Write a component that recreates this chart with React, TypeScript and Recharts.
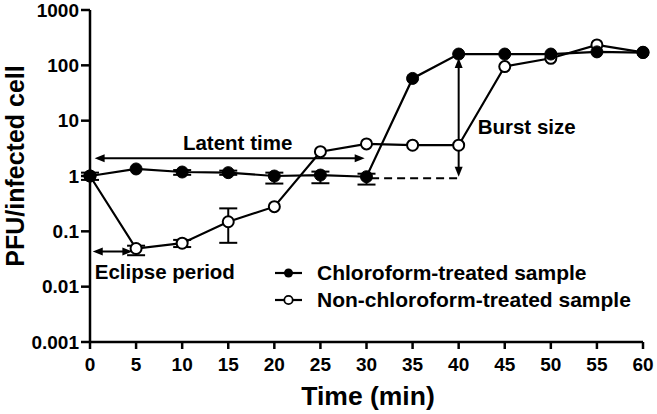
import React from 'react';
import { ComposedChart, Line, XAxis, YAxis, ErrorBar, ReferenceLine, Legend } from 'recharts';

const times = [0, 5, 10, 15, 20, 25, 30, 35, 40, 45, 50, 55, 60];
const chloroform = [1, 1.34, 1.18, 1.15, 1.0, 1.04, 0.97, 58, 160, 160, 160, 175, 170];
const chloroformLow = [0.85, null, 1.05, 1.05, 0.73, 0.74, 0.7, null, null, null, null, null, null];
const chloroformHigh = [1.15, null, 1.28, 1.25, 1.15, 1.2, 1.1, null, null, null, null, null, null];
const nonChloroform = [1, 0.049, 0.061, 0.149, 0.279, 2.75, 3.8, 3.6, 3.6, 95, 134, 234, 172];
const nonChloroformLow = [null, 0.037, 0.052, 0.062, null, null, null, null, null, null, null, null, null];
const nonChloroformHigh = [null, 0.055, 0.07, 0.26, null, null, null, null, null, null, null, null, null];

const xTicks = [0, 5, 10, 15, 20, 25, 30, 35, 40, 45, 50, 55, 60];
const yTicks = [0.001, 0.01, 0.1, 1, 10, 100, 1000];

const latentTime = { from: 0.5, to: 29.8, level: 2.1, label: 'Latent time' };
const eclipsePeriod = { from: 0.3, to: 4.6, level: 0.043, label: 'Eclipse period' };
const burstSize = { at: 40, from: 0.97, to: 135, label: 'Burst size' };
const baseline = { from: 30.5, to: 40, level: 0.91 };

const seriesNames = ['Chloroform-treated sample', 'Non-chloroform-treated sample'];

const delta = (v: number, lo: number | null, hi: number | null) =>
  lo == null || hi == null ? undefined : [v - lo, hi - v];

const data = times.map((t, i) => ({
  t,
  c: chloroform[i],
  cErr: delta(chloroform[i], chloroformLow[i], chloroformHigh[i]),
  n: nonChloroform[i],
  nErr: delta(nonChloroform[i], nonChloroformLow[i], nonChloroformHigh[i]),
}));

const FONT = '"Liberation Sans", Arial, Helvetica, sans-serif';

const head = (tx: number, ty: number, dx: number, dy: number, key: string) => {
  const L = 10;
  const W = 4;
  const bx = tx - dx * L;
  const by = ty - dy * L;
  const px = -dy * W;
  const py = dx * W;
  return (
    <polygon
      key={key}
      points={`${tx},${ty} ${bx + px},${by + py} ${bx - px},${by - py}`}
      fill="#000"
    />
  );
};

const makeArrow = (label: string, kind: 'latent' | 'eclipse' | 'burst') => (props: any) => {
  const { x1, y1, x2, y2 } = props;
  const len = Math.hypot(x2 - x1, y2 - y1) || 1;
  const dx = (x2 - x1) / len;
  const dy = (y2 - y1) / len;
  let tx = 0;
  let ty = 0;
  let anchor: 'start' | 'middle' = 'middle';
  if (kind === 'latent') {
    tx = (x1 + x2) / 2 + 8;
    ty = y1 - 8;
  } else if (kind === 'eclipse') {
    tx = x1 + 2;
    ty = y1 + 27;
    anchor = 'start';
  } else {
    tx = x1 + 19;
    ty = (y1 + y2) / 2 + 17;
    anchor = 'start';
  }
  return (
    <g>
      <line x1={x1 + dx * 4} y1={y1 + dy * 4} x2={x2 - dx * 4} y2={y2 - dy * 4} stroke="#000" strokeWidth={2} />
      {head(x1, y1, -dx, -dy, 'a')}
      {head(x2, y2, dx, dy, 'b')}
      <text x={tx} y={ty} textAnchor={anchor} fontFamily={FONT} fontWeight="bold" fontSize={20.5} fill="#000">
        {label}
      </text>
    </g>
  );
};

const FilledDot = (props: any) => {
  const { cx, cy } = props;
  if (cx == null || cy == null) return null;
  return <circle cx={cx} cy={cy} r={6} fill="#000" stroke="#000" strokeWidth={1} />;
};

const OpenDot = (props: any) => {
  const { cx, cy } = props;
  if (cx == null || cy == null) return null;
  return <circle cx={cx} cy={cy} r={5.5} fill="#fff" stroke="#000" strokeWidth={2} />;
};

const LegendContent = () => (
  <div style={{ fontFamily: FONT, fontWeight: 'bold', fontSize: 21, color: '#000', lineHeight: '27px' }}>
    {seriesNames.map((name, i) => (
      <div key={name} style={{ display: 'flex', alignItems: 'center', whiteSpace: 'nowrap' }}>
        <svg width={30} height={14} style={{ marginRight: 14 }}>
          <line x1={2} y1={7} x2={29} y2={7} stroke="#000" strokeWidth={2.2} />
          {i === 0 ? (
            <circle cx={15.5} cy={7} r={4.5} fill="#000" />
          ) : (
            <circle cx={15.5} cy={7} r={4.2} fill="#fff" stroke="#000" strokeWidth={1.8} />
          )}
        </svg>
        <span>{name}</span>
      </div>
    ))}
  </div>
);

export default function App() {
  const tickStyle = { fontFamily: FONT, fontWeight: 'bold', fontSize: 19, fill: '#000' };
  return (
    <div style={{ position: 'absolute', left: 0, top: 0, width: 657, height: 414, background: '#fff' }}>
      <ComposedChart
        width={657}
        height={414}
        data={data}
        margin={{ top: 10, right: 14, bottom: 0, left: 0 }}
      >
        <XAxis
          dataKey="t"
          type="number"
          domain={[0, 60]}
          ticks={xTicks}
          interval={0}
          height={72}
          tickSize={7}
          tickMargin={9}
          axisLine={{ stroke: '#000', strokeWidth: 2.5 }}
          tickLine={{ stroke: '#000', strokeWidth: 2.5 }}
          tick={tickStyle}
          label={{
            content: () => (
              <text x={368} y={405} textAnchor="middle" fontFamily={FONT} fontWeight="bold" fontSize={26.5} fill="#000">
                Time (min)
              </text>
            ),
          }}
        />
        <YAxis
          scale="log"
          domain={[0.001, 1000]}
          ticks={yTicks}
          interval={0}
          allowDataOverflow
          width={90}
          tickSize={9}
          tickMargin={2}
          axisLine={{ stroke: '#000', strokeWidth: 2.5 }}
          tickLine={{ stroke: '#000', strokeWidth: 2.5 }}
          tick={tickStyle}
          tickFormatter={(v: number) => String(v)}
          label={{
            content: () => (
              <text
                x={24}
                y={166}
                transform="rotate(-90, 24, 166)"
                textAnchor="middle"
                fontFamily={FONT}
                fontWeight="bold"
                fontSize={25}
                fill="#000"
              >
                PFU/infected cell
              </text>
            ),
          }}
        />
        <ReferenceLine
          segment={[{ x: baseline.from, y: baseline.level }, { x: baseline.to, y: baseline.level }]}
          stroke="#000"
          strokeWidth={2}
          strokeDasharray="8 5"
          ifOverflow="visible"
        />
        <ReferenceLine
          segment={[{ x: latentTime.from, y: latentTime.level }, { x: latentTime.to, y: latentTime.level }]}
          ifOverflow="visible"
          shape={makeArrow(latentTime.label, 'latent')}
        />
        <ReferenceLine
          segment={[{ x: eclipsePeriod.from, y: eclipsePeriod.level }, { x: eclipsePeriod.to, y: eclipsePeriod.level }]}
          ifOverflow="visible"
          shape={makeArrow(eclipsePeriod.label, 'eclipse')}
        />
        <ReferenceLine
          segment={[{ x: burstSize.at, y: burstSize.to }, { x: burstSize.at, y: burstSize.from }]}
          ifOverflow="visible"
          shape={makeArrow(burstSize.label, 'burst')}
        />
        <Line
          dataKey="n"
          name={seriesNames[1]}
          stroke="#000"
          strokeWidth={2.2}
          dot={<OpenDot />}
          activeDot={false}
          isAnimationActive={false}
          type="linear"
        >
          <ErrorBar dataKey="nErr" width={9} stroke="#000" strokeWidth={2} direction="y" />
        </Line>
        <Line
          dataKey="c"
          name={seriesNames[0]}
          stroke="#000"
          strokeWidth={2.2}
          dot={<FilledDot />}
          activeDot={false}
          isAnimationActive={false}
          type="linear"
        >
          <ErrorBar dataKey="cErr" width={9} stroke="#000" strokeWidth={2} direction="y" />
        </Line>
        <Legend
          layout="horizontal"
          verticalAlign="middle"
          align="center"
          content={<LegendContent />}
          wrapperStyle={{ position: 'absolute', left: 273, top: 259, width: 384, height: 60 }}
        />
      </ComposedChart>
    </div>
  );
}
